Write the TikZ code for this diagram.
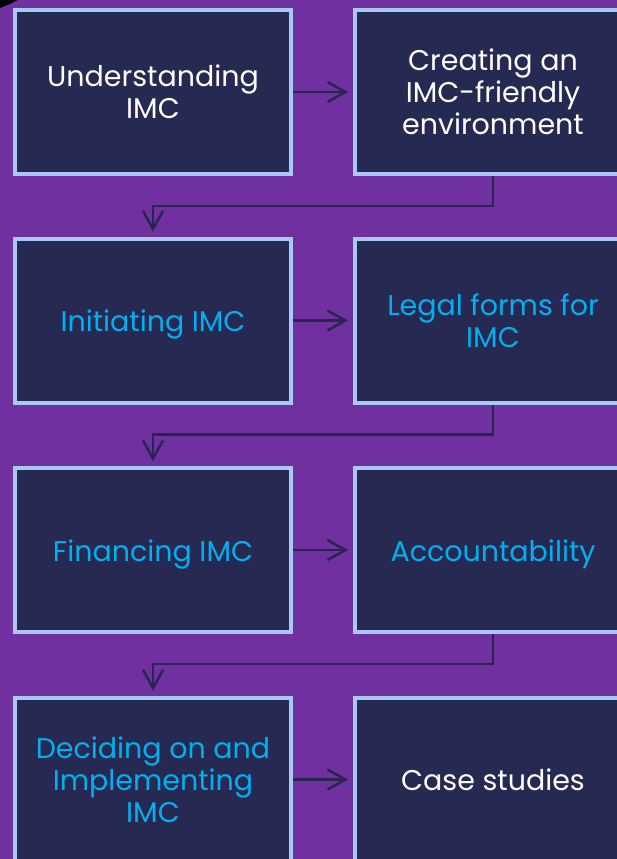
\documentclass[tikz,border=0pt]{standalone}
\usepackage{fontspec}
\setmainfont{Poppins}
\usetikzlibrary{arrows.meta}
\definecolor{bgpurple}{HTML}{7030A0}
\definecolor{boxfill}{HTML}{262952}
\definecolor{boxedge}{HTML}{A9C8F5}
\definecolor{cyantext}{HTML}{00B0F0}
\definecolor{connline}{HTML}{262650}
\newcommand{\lowline}[1]{\raisebox{-4pt}[\height][\depth]{#1}}
\tikzset{
  stepbox/.style={draw=boxedge, fill=boxfill, line width=4pt, minimum width=276pt, minimum height=164pt, align=center, font=\fontsize{28.5}{32}\selectfont, inner sep=0pt},
  whitetxt/.style={text=white},
  cyantxt/.style={text=cyantext},
  conn/.style={draw=connline, line width=2.5pt, -{Straight Barb[length=18pt,width=20pt,line width=2.5pt]}},
}
\begin{document}
\begin{tikzpicture}[x=1pt,y=-1pt]
\useasboundingbox (0,0) rectangle (617,859);
\clip (0,0) rectangle (617,859);
\fill[bgpurple] (0,0) rectangle (617,859);
\fill[black] (0,0) -- (18,0) .. controls (10,4) .. (0,8) -- cycle;
\node[stepbox, whitetxt] (a1) at (153,92) {Understanding\\IMC};
\node[stepbox, whitetxt] (b1) at (493,92) {Creating an\\IMC-friendly\\environment};
\node[stepbox, cyantxt] (a2) at (153,320.5) {\lowline{Initiating IMC}};
\node[stepbox, cyantxt] (b2) at (493,320.5) {Legal forms for\\IMC};
\node[stepbox, cyantxt] (a3) at (153,550) {\lowline{Financing IMC}};
\node[stepbox, cyantxt] (b3) at (493,550) {\lowline{Accountability}};
\node[stepbox, cyantxt] (a4) at (153,779.5) {Deciding on and\\Implementing\\IMC};
\node[stepbox, whitetxt] (b4) at (493,779.5) {Case studies};
\draw[conn, shorten >=5pt] (a1.east) -- (b1.west);
\draw[conn, shorten >=5pt] (a2.east) -- (b2.west);
\draw[conn, shorten >=5pt] (a3.east) -- (b3.west);
\draw[conn, shorten >=5pt] (a4.east) -- (b4.west);
\draw[conn, shorten >=5pt] (b1.south) -- ++(0,30) -| (a2.north);
\draw[conn, shorten >=5pt] (b2.south) -- ++(0,30) -| (a3.north);
\draw[conn, shorten >=5pt] (b3.south) -- ++(0,30) -| (a4.north);
\end{tikzpicture}
\end{document}
